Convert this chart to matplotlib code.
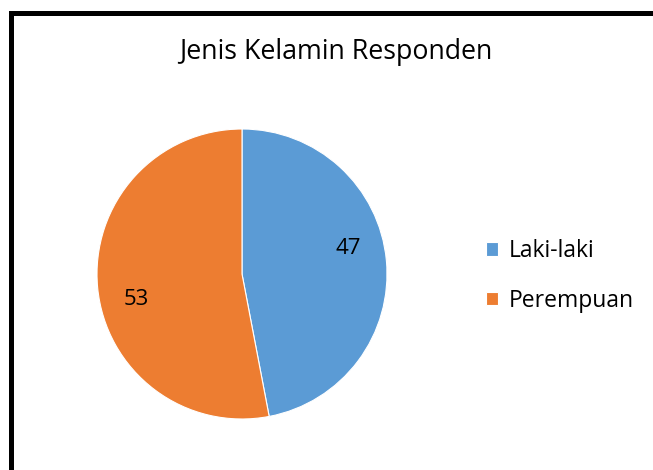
import numpy as np
import matplotlib.pyplot as plt
from matplotlib.lines import Line2D

labels = ['Laki-laki', 'Perempuan']
values = [47, 53]
colors = ['#5B9BD5', '#ED7D31']
title = 'Jenis Kelamin Responden'

plt.rcParams['font.family'] = ['Open Sans', 'DejaVu Sans']

W, H = 653, 470
fig = plt.figure(figsize=(W / 100, H / 100), dpi=100)

# black frame (only top and left visible, cut off by the crop)
fig.add_artist(Line2D([10.5 / W, 10.5 / W, 1.0], [0.0, 1 - 12.5 / H, 1 - 12.5 / H],
                      transform=fig.transFigure, color='black', linewidth=3.6,
                      solid_joinstyle='miter'))

ax = fig.add_axes([97 / W, 1 - 419 / H, 290 / W, 290 / H])
wedges, _, autotexts = ax.pie(values, colors=colors, startangle=90, counterclock=False,
                              autopct=lambda p: '%d' % round(p), pctdistance=0.74,
                              wedgeprops=dict(edgecolor='white', linewidth=0.8),
                              textprops=dict(fontsize=16, color='black'))
# excel-like label placement, a bit rotated from the wedge middle
for w, t in zip(wedges, autotexts):
    ang = np.deg2rad((w.theta1 + w.theta2) / 2 + 8)
    t.set_position((0.75 * np.cos(ang), 0.75 * np.sin(ang)))
ax.set_xlim(-1, 1)
ax.set_ylim(-1, 1)
ax.set_aspect('equal')

fig.text(336 / W, 1 - 52 / H, title, ha='center', va='center', fontsize=19.3)

fig.legend(wedges, labels, loc='center left', bbox_to_anchor=(465 / W, 1 - 276 / H),
           frameon=False, fontsize=16.5, handlelength=0.55, handleheight=0.55,
           handletextpad=0.45, labelspacing=1.1)

fig.savefig('out.png', dpi=100)
